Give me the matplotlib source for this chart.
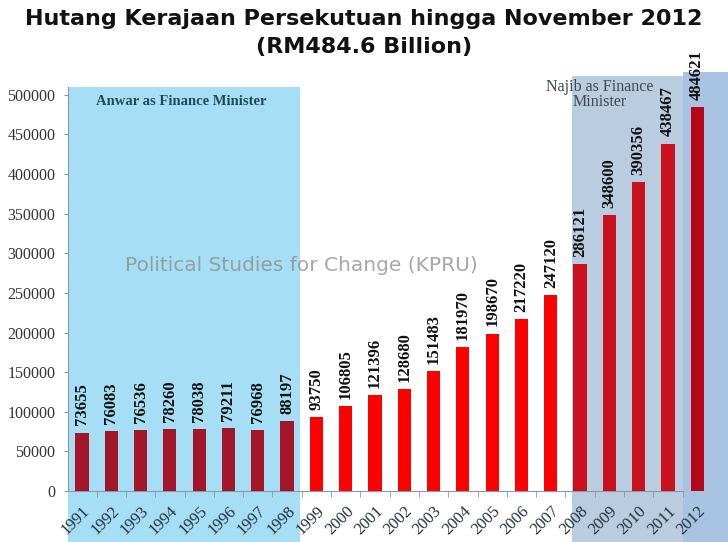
import matplotlib
matplotlib.use("Agg")
import matplotlib.pyplot as plt
from matplotlib.patches import Rectangle
from matplotlib.ticker import FixedLocator

years = [str(y) for y in range(1991, 2013)]
debt = [73655, 76083, 76536, 78260, 78038, 79211, 76968, 88197,
        93750, 106805, 121396, 128680, 151483, 181970, 198670, 217220, 247120,
        286121, 348600, 390356, 438467, 484621]
yticks = [0, 50000, 100000, 150000, 200000, 250000, 300000, 350000, 400000, 450000, 500000]
bar_colors = (["#A3162A"] * 8 + ["#FF0000"] * 9 + ["#C8101F"] * 4 + ["#B5071A"])

fig = plt.figure(figsize=(7.28, 5.42), dpi=100)
ax = fig.add_axes([68 / 728, 1 - 491 / 542, 1 - 68 / 728, (491 - 71) / 542])
ax.set_xlim(-0.478, 22.05)
ax.set_ylim(0, 530000)

# background bands
ax.add_patch(Rectangle((-0.478, -80000), 7.93, 80000 + 510000, facecolor="#A6DFF5",
                       edgecolor="none", clip_on=False, zorder=0))
ax.add_patch(Rectangle((16.72, -80000), 3.79, 80000 + 524000, facecolor="#B9CCE0",
                       edgecolor="none", clip_on=False, zorder=0))
ax.add_patch(Rectangle((20.51, -80000), 2.0, 80000 + 529000, facecolor="#A9C3E2",
                       edgecolor="none", clip_on=False, zorder=0))

x = list(range(len(years)))
ax.bar(x, debt, width=0.45, color=bar_colors, zorder=3)

for xi, v in zip(x, debt):
    ax.text(xi, v + 9000, str(v), rotation=90, ha="center", va="bottom",
            fontsize=12, fontweight="bold", family="Liberation Serif",
            color="#111111", zorder=4)

ax.set_yticks(yticks)
ax.set_yticklabels([str(t) for t in yticks], family="Liberation Serif",
                   fontsize=11.5, color="#333333")
ax.set_xticks(x)
ax.set_xticklabels(years, rotation=45, ha="right", rotation_mode="anchor",
                   family="Liberation Serif", fontsize=12, color="#23323F")
ax.xaxis.set_minor_locator(FixedLocator([i + 0.5 for i in range(-1, 21)]))
ax.tick_params(axis="x", which="major", length=0, pad=9)
ax.tick_params(axis="x", which="minor", length=4, color="#8899AA")
ax.tick_params(axis="y", length=3, color="#8899AA", pad=6)
for s in ["top", "right"]:
    ax.spines[s].set_visible(False)
ax.spines["left"].set_bounds(0, 510000)
ax.spines["left"].set_color("#8899AA")
ax.spines["bottom"].set_bounds(-0.478, 20.51)
ax.spines["bottom"].set_color("#8899AA")
ax.patch.set_visible(False)

ax.text(3.4, 492000, "Anwar as Finance Minister", ha="center", va="center",
        family="Liberation Serif", fontweight="bold", fontsize=10.5, color="#1F4A5C", zorder=5)
ax.text(17.68, 500000, "Najib as Finance\nMinister", ha="center", va="center",
        family="Liberation Serif", fontsize=11.5, color="#3C4856", linespacing=0.95, zorder=5)
ax.text(7.5, 284000, "Political Studies for Change (KPRU)", ha="center", va="center",
        family="DejaVu Sans", fontsize=14.5, color="#8A8A8A", alpha=0.75, zorder=2)

fig.text(0.5, 1 - 19 / 542, "Hutang Kerajaan Persekutuan hingga November 2012",
         ha="center", va="center", family="DejaVu Sans", fontweight="bold",
         fontsize=16, color="#111111")
fig.text(0.5, 1 - 47 / 542, "(RM484.6 Billion)", ha="center", va="center",
         family="DejaVu Sans", fontweight="bold", fontsize=16, color="#111111")

fig.savefig("out.png", dpi=100)
